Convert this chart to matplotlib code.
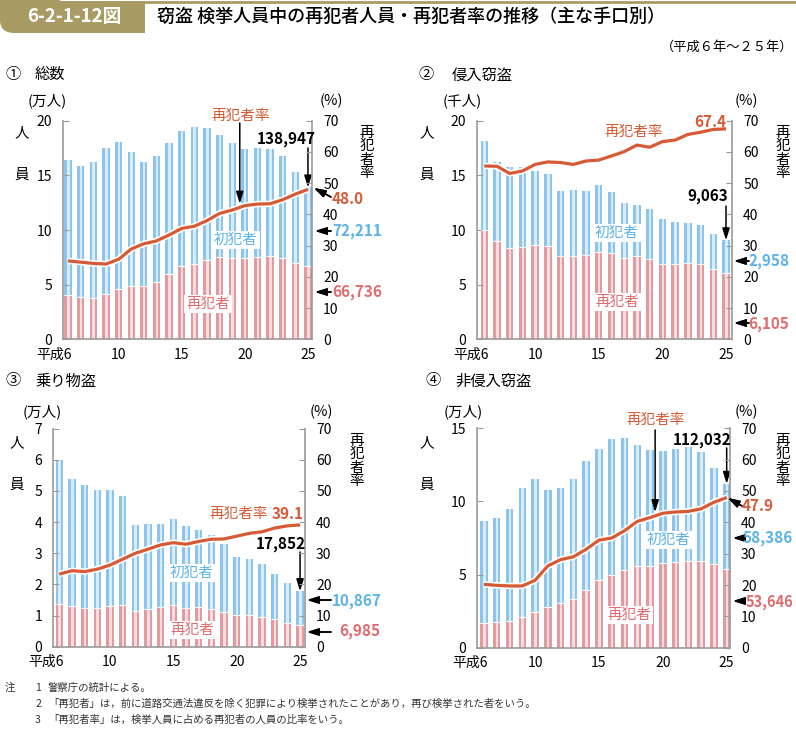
import numpy as np
import matplotlib.pyplot as plt
import matplotlib.patheffects as pe
from matplotlib.patches import FancyBboxPatch, Rectangle
from matplotlib.lines import Line2D
from matplotlib.transforms import ScaledTranslation

plt.rcParams['font.family'] = ['Noto Sans CJK JP', 'DejaVu Sans']

W, H = 796, 729

years = list(range(6, 26))
xtick_pos = [0, 4, 9, 14, 19]
xtick_labels = ['平成6', '10', '15', '20', '25']

# ① 総数 (万人)
total_all = [16.4, 15.85, 16.2, 17.47, 18.02, 17.13, 16.19, 16.77, 17.96, 19.05,
             19.45, 19.36, 18.72, 17.96, 17.38, 17.5, 17.41, 16.77, 15.34, 13.8947]
repeat_all = [4.02, 3.84, 3.81, 4.15, 4.57, 4.88, 4.88, 5.21, 5.98, 6.74,
              6.92, 7.23, 7.56, 7.41, 7.41, 7.53, 7.59, 7.41, 7.01, 6.6736]
rate_all = [25.1, 24.7, 24.3, 24.1, 25.6, 28.9, 30.6, 31.5, 33.4, 35.5,
            36.2, 38.0, 40.3, 41.4, 42.8, 43.3, 43.4, 44.7, 46.5, 48.0]

# ② 侵入窃盗 (千人)
total_burg = [18.14, 16.22, 15.79, 15.79, 15.43, 15.15, 13.6, 13.66, 13.6, 14.12,
              13.48, 12.44, 12.32, 11.95, 11.04, 10.76, 10.67, 10.49, 9.63, 9.063]
repeat_burg = [10.0, 8.96, 8.32, 8.48, 8.6, 8.57, 7.62, 7.62, 7.71, 8.02,
               7.87, 7.44, 7.59, 7.32, 6.92, 6.86, 6.95, 6.92, 6.4, 6.105]
rate_burg = [55.5, 55.4, 53.1, 53.9, 56.0, 56.8, 56.6, 56.0, 57.1, 57.4,
             58.7, 60.1, 62.2, 61.5, 63.3, 63.8, 65.6, 66.3, 67.2, 67.4]

# ③ 乗り物盗 (万人)
total_veh = [6.0, 5.4, 5.18, 5.03, 5.03, 4.84, 3.91, 3.94, 3.93, 4.11,
             3.88, 3.75, 3.59, 3.3, 2.89, 2.83, 2.66, 2.32, 2.03, 1.7852]
repeat_veh = [1.38, 1.31, 1.25, 1.25, 1.3, 1.33, 1.15, 1.21, 1.26, 1.34,
              1.25, 1.26, 1.22, 1.11, 1.01, 1.02, 0.95, 0.88, 0.77, 0.6985]
rate_veh = [23.3, 24.4, 24.1, 24.9, 26.2, 28.1, 30.0, 31.3, 32.7, 33.4,
            32.9, 33.8, 34.5, 34.6, 35.5, 36.4, 36.9, 38.1, 38.8, 39.1]

# ④ 非侵入窃盗 (万人)
total_non = [8.64, 8.89, 9.46, 10.94, 11.51, 10.8, 10.94, 11.51, 12.74, 13.59,
             14.25, 14.36, 13.88, 13.52, 13.43, 13.61, 13.72, 13.4, 12.31, 11.2032]
repeat_non = [1.71, 1.73, 1.85, 2.12, 2.44, 2.76, 3.03, 3.31, 3.92, 4.6,
              4.95, 5.31, 5.61, 5.61, 5.77, 5.88, 5.95, 5.9, 5.7, 5.3646]
rate_non = [20.2, 19.9, 19.7, 19.7, 21.5, 26.1, 28.1, 29.0, 31.4, 34.3,
            35.0, 37.3, 40.3, 41.5, 42.9, 43.3, 43.5, 44.3, 46.4, 47.9]

TAN = '#a89b63'
RED_D = '#e09ba0'
RED_L = '#f6dcdd'
BLUE_D = '#8cc4ee'
BLUE_L = '#d8edfb'
RATE_C = '#d65a34'
REP_TXT = '#e06c70'
FIRST_TXT = '#5cb3ea'
GRAY = '#9a9a9a'
TICK_FS = 10

ARROW = dict(arrowstyle='-|>,head_length=0.7,head_width=0.22', color='black',
             lw=1.1, shrinkA=0, shrinkB=0)


def fx(x):
    return x / W


def fy(y):
    return 1 - y / H


fig = plt.figure(figsize=(W / 100, H / 100), dpi=100)


def txt(x, y, s, **kw):
    kw.setdefault('ha', 'center')
    kw.setdefault('va', 'center')
    kw.setdefault('fontsize', 10.5)
    return fig.text(fx(x), fy(y), s, **kw)


def arrow(x0, y0, x1, y1):
    fig.add_artist(plt.annotate('', xy=(fx(x1), fy(y1)), xycoords='figure fraction',
                                xytext=(fx(x0), fy(y0)), textcoords='figure fraction',
                                arrowprops=ARROW, annotation_clip=False))


def panel(left, right, top, bottom, xlim, total, repeat, rate, ymax, ystep):
    ax = fig.add_axes([fx(left), fy(bottom), fx(right - left), (bottom - top) / H])
    idx = np.arange(len(years))
    total = np.array(total)
    repeat = np.array(repeat)
    first = total - repeat

    ax.bar(idx, repeat, width=0.58, color=RED_D, lw=0)
    ax.bar(idx + 0.03, repeat, width=0.2, color=RED_L, lw=0)
    ax.bar(idx, first, bottom=repeat, width=0.58, color=BLUE_D, lw=0)
    ax.bar(idx + 0.03, first, bottom=repeat, width=0.2, color=BLUE_L, lw=0)
    ax.hlines(repeat, idx - 0.29, idx + 0.29, color='white', lw=0.8)

    ax.set_xlim(*xlim)
    ax.set_ylim(0, ymax)
    ax.set_yticks(np.arange(0, ymax + 0.01, ystep))
    ax.set_xticks(xtick_pos, xtick_labels)
    ax.tick_params(axis='y', direction='in', length=4, color=GRAY, labelsize=TICK_FS, pad=8)
    ax.tick_params(axis='x', length=0, labelsize=TICK_FS, pad=6)
    lab = ax.get_xticklabels()[0]
    lab.set_ha('right')
    lab.set_transform(lab.get_transform() + ScaledTranslation(0.04, 0, fig.dpi_scale_trans))
    for s in ['top', 'right']:
        ax.spines[s].set_visible(False)
    for s in ['left', 'bottom']:
        ax.spines[s].set_color(GRAY)
        ax.spines[s].set_linewidth(1.2)

    ax2 = ax.twinx()
    ax2.plot(idx, rate, color=RATE_C, lw=2.3, solid_capstyle='butt',
             path_effects=[pe.Stroke(linewidth=4.6, foreground='white'), pe.Normal()])
    ax2.set_ylim(0, 70)
    ax2.set_yticks(range(0, 71, 10))
    ax2.tick_params(axis='y', direction='in', length=4, color=GRAY, labelsize=TICK_FS, pad=8)
    for s in ['top', 'left', 'bottom']:
        ax2.spines[s].set_visible(False)
    ax2.spines['right'].set_color(GRAY)
    ax2.spines['right'].set_linewidth(1.2)
    return ax, ax2


def bar_arrow(ax, y_start, value):
    ax.annotate('', xy=(19, value), xycoords='data',
                xytext=(19, fy(y_start)), textcoords=('data', 'figure fraction'),
                arrowprops=ARROW, annotation_clip=False)


def rate_arrow(ax2, rate, x, y_start):
    ax2.annotate('', xy=(x, np.interp(x, np.arange(len(rate)), rate) + 1.2), xycoords='data',
                 xytext=(x, fy(y_start)), textcoords=('data', 'figure fraction'),
                 arrowprops=ARROW, annotation_clip=False)


def side_labels(ytop, yunit_y, unit, unit_x, pct_x, ren_x, rate_x, rate_y):
    txt(ren_x, ytop + 13, '人', fontsize=10.5)
    txt(ren_x, ytop + 55, '員', fontsize=10.5)
    txt(unit_x, yunit_y, unit, fontsize=10.5)
    txt(pct_x, yunit_y, '(%)', fontsize=10.5)
    txt(rate_x, rate_y, '再\n犯\n者\n率', fontsize=10.5, linespacing=0.95)


# header
fig.add_artist(FancyBboxPatch((0, fy(33)), fx(60), fy(-30) - fy(33),
                              boxstyle='round,pad=0,rounding_size=0.018',
                              fc=TAN, ec='none', transform=fig.transFigure))
fig.add_artist(Rectangle((fx(30), fy(33)), fx(115), fy(1) - fy(33),
                         fc=TAN, ec='none', transform=fig.transFigure))
fig.add_artist(Line2D([fx(140), 1], [fy(1.5), fy(1.5)], color=TAN, lw=2,
                      transform=fig.transFigure))
txt(74, 17, '6-2-1-12図', color='white', fontsize=13.5, fontweight='bold')
txt(157, 17, '窃盗 検挙人員中の再犯者人員・再犯者率の推移（主な手口別）',
    ha='left', fontsize=13, fontweight='medium')
txt(793, 47, '（平成６年～２５年）', ha='right', fontsize=9.5)

# ① 総数
txt(5, 75, '①', ha='left', fontsize=11)
txt(35, 75, '総数', ha='left', fontsize=11)
ax, ax2 = panel(63, 312, 120.7, 339.3, (-0.4, 19.32), total_all, repeat_all, rate_all, 20, 5)
side_labels(120, 101, '(万人)', 47, 331, 22, 367, 153)
txt(241, 116, '再犯者率', color=RATE_C)
rate_arrow(ax2, rate_all, 13.6, 123)
txt(286, 139, '138,947', fontsize=11, fontweight='bold')
bar_arrow(ax, 148, total_all[-1])
txt(348, 199, '48.0', color=RATE_C, fontsize=11, fontweight='bold')
arrow(331, 197, 314, 188)
txt(357, 231, '72,211', color=FIRST_TXT, fontsize=11, fontweight='bold')
arrow(331, 231, 315, 231)
txt(357, 292, '66,736', color=REP_TXT, fontsize=11, fontweight='bold')
arrow(331, 292, 315, 292)
txt(236, 240, '初犯者', color=FIRST_TXT, bbox=dict(fc='white', ec='none', pad=1.5))
txt(208, 304, '再犯者', color=REP_TXT, bbox=dict(fc='white', ec='none', pad=1.5))

# ② 侵入窃盗
txt(418, 75, '②', ha='left', fontsize=11)
txt(452, 75, '侵入窃盗', ha='left', fontsize=11)
ax, ax2 = panel(477, 732, 120.7, 339.3, (-0.57, 19.47), total_burg, repeat_burg, rate_burg, 20, 5)
side_labels(120, 101, '(千人)', 462, 746, 427, 783, 153)
txt(634, 132, '再犯者率', color=RATE_C)
txt(710, 122, '67.4', color=RATE_C, fontsize=11, fontweight='bold')
txt(708, 196, '9,063', fontsize=11, fontweight='bold')
bar_arrow(ax, 206, total_burg[-1])
txt(769, 261, '2,958', color=FIRST_TXT, fontsize=11, fontweight='bold')
arrow(749, 261, 734, 261)
txt(769, 324, '6,105', color=REP_TXT, fontsize=11, fontweight='bold')
arrow(749, 323, 734, 323)
txt(617, 233, '初犯者', color=FIRST_TXT, bbox=dict(fc='white', ec='none', pad=1.5))
txt(617, 302, '再犯者', color=REP_TXT, bbox=dict(fc='white', ec='none', pad=1.5))

# ③ 乗り物盗
txt(5, 381, '③', ha='left', fontsize=11)
txt(35, 381, '乗り物盗', ha='left', fontsize=11)
ax, ax2 = panel(53.3, 305, 428.7, 646.7, (-0.47, 19.39), total_veh, repeat_veh, rate_veh, 7, 1)
side_labels(430, 412, '(万人)', 42, 321, 17, 357, 461)
txt(239, 514, '再犯者率', color=RATE_C)
txt(288, 514, '39.1', color=RATE_C, fontsize=11, fontweight='bold')
txt(281, 544, '17,852', fontsize=11, fontweight='bold')
bar_arrow(ax, 552, total_veh[-1])
txt(357, 601, '10,867', color=FIRST_TXT, fontsize=11, fontweight='bold')
arrow(331, 600, 307, 600)
txt(360, 631, '6,985', color=REP_TXT, fontsize=11, fontweight='bold')
arrow(331, 632, 307, 632)
txt(192, 573, '初犯者', color=FIRST_TXT, bbox=dict(fc='white', ec='none', pad=1.5))
txt(192, 630, '再犯者', color=REP_TXT, bbox=dict(fc='white', ec='none', pad=1.5))

# ④ 非侵入窃盗
txt(425, 381, '④', ha='left', fontsize=11)
txt(455, 381, '非侵入窃盗', ha='left', fontsize=11)
ax, ax2 = panel(477.3, 730, 428.3, 647.7, (-0.52, 19.26), total_non, repeat_non, rate_non, 15, 5)
side_labels(430, 412, '(万人)', 463, 746, 427, 783, 461)
txt(656, 420, '再犯者率', color=RATE_C)
rate_arrow(ax2, rate_non, 13.4, 430)
txt(702, 440, '112,032', fontsize=11, fontweight='bold')
bar_arrow(ax, 448, total_non[-1])
txt(758, 506, '47.9', color=RATE_C, fontsize=11, fontweight='bold')
arrow(742, 506, 728, 498)
txt(768, 538, '58,386', color=FIRST_TXT, fontsize=11, fontweight='bold')
arrow(742, 538, 733, 538)
txt(769, 602, '53,646', color=REP_TXT, fontsize=10.5, fontweight='bold')
arrow(743, 601, 733, 601)
txt(669, 540, '初犯者', color=FIRST_TXT, bbox=dict(fc='white', ec='none', pad=1.5))
txt(629, 615, '再犯者', color=REP_TXT, bbox=dict(fc='white', ec='none', pad=1.5))

# notes
notes = ['警察庁の統計による。',
         '「再犯者」は，前に道路交通法違反を除く犯罪により検挙されたことがあり，再び検挙された者をいう。',
         '「再犯者率」は，検挙人員に占める再犯者の人員の比率をいう。']
txt(5, 688, '注', ha='left', fontsize=7.5, color='#333333')
for i, note in enumerate(notes):
    txt(38, 688 + 16 * i, str(i + 1), ha='center', fontsize=7.5, color='#333333')
    txt(48, 688 + 16 * i, note, ha='left', fontsize=7.5, color='#333333')

fig.savefig('out.png', dpi=100)
